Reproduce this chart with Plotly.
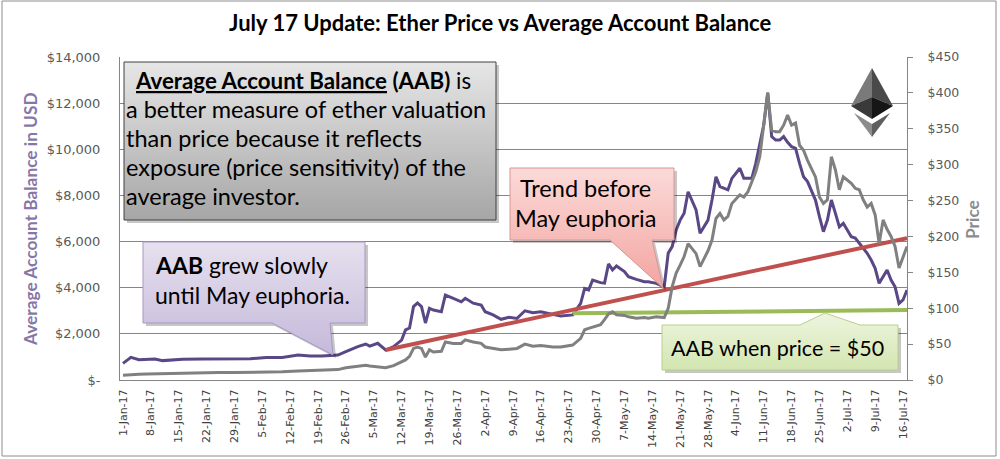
import plotly.graph_objects as go

# ---------------- data ----------------
dates = [
    "2017-01-01", "2017-01-03", "2017-01-05", "2017-01-07", "2017-01-09", "2017-01-11",
    "2017-01-13", "2017-01-16", "2017-01-21", "2017-01-25", "2017-01-29", "2017-02-02",
    "2017-02-06", "2017-02-10", "2017-02-14", "2017-02-17", "2017-02-20", "2017-02-24",
    "2017-02-26", "2017-03-01", "2017-03-03", "2017-03-04", "2017-03-06", "2017-03-08",
    "2017-03-10", "2017-03-12", "2017-03-13", "2017-03-14", "2017-03-15", "2017-03-16",
    "2017-03-17", "2017-03-18", "2017-03-19", "2017-03-20", "2017-03-22", "2017-03-23",
    "2017-03-25", "2017-03-27", "2017-03-28", "2017-03-30", "2017-04-01", "2017-04-02",
    "2017-04-04", "2017-04-06", "2017-04-08", "2017-04-10", "2017-04-12", "2017-04-14",
    "2017-04-16", "2017-04-17", "2017-04-19", "2017-04-21", "2017-04-24", "2017-04-26",
    "2017-04-27", "2017-04-28", "2017-04-29", "2017-05-01", "2017-05-02", "2017-05-03",
    "2017-05-04", "2017-05-05", "2017-05-07", "2017-05-08", "2017-05-10", "2017-05-12",
    "2017-05-13", "2017-05-15", "2017-05-17", "2017-05-18", "2017-05-19", "2017-05-20",
    "2017-05-21", "2017-05-22", "2017-05-23", "2017-05-25", "2017-05-26", "2017-05-28",
    "2017-05-29", "2017-05-30", "2017-05-31", "2017-06-01", "2017-06-02", "2017-06-03",
    "2017-06-05", "2017-06-06", "2017-06-07", "2017-06-08", "2017-06-09", "2017-06-10",
    "2017-06-11", "2017-06-12", "2017-06-13", "2017-06-14", "2017-06-15", "2017-06-16",
    "2017-06-17", "2017-06-18", "2017-06-19", "2017-06-20", "2017-06-21", "2017-06-22",
    "2017-06-24", "2017-06-25", "2017-06-26", "2017-06-27", "2017-06-28", "2017-06-29",
    "2017-06-30", "2017-07-01", "2017-07-03", "2017-07-04", "2017-07-05", "2017-07-06",
    "2017-07-07", "2017-07-08", "2017-07-09", "2017-07-10", "2017-07-11", "2017-07-12",
    "2017-07-13", "2017-07-14", "2017-07-15", "2017-07-16", "2017-07-17",
]
aab = [
    720, 980, 880, 900, 910, 840,
    870, 895, 910, 920, 920, 920,
    980, 980, 1080, 1040, 1040, 1080,
    1230, 1450, 1560, 1470, 1590, 1300,
    1450, 1730, 2170, 2250, 3180, 3340,
    3180, 2470, 3110, 3030, 2960, 3680,
    3540, 3390, 3540, 3330, 3250, 2960,
    2820, 2630, 2720, 2670, 3000, 2920,
    2960, 2920, 2820, 2770, 2820, 3320,
    3970, 3900, 4330, 4220, 4200, 5030,
    4770, 4940, 4700, 4480, 4360, 4260,
    4260, 4190, 4040, 5500, 5780, 6500,
    6930, 7230, 8160, 7370, 6360, 6930,
    7800, 8810, 8380, 8300, 8240, 8740,
    9180, 8740, 8740, 8740, 9390, 10190,
    11050, 12450, 10550, 10400, 10400, 10550,
    10300, 10110, 10040, 9390, 8810, 8600,
    7800, 7080, 6430, 6930, 7800, 7230,
    6640, 6790, 6210, 6150, 5920, 5700,
    5490, 5200, 4840, 4190, 4500, 4770,
    4330, 4040, 3320, 3470, 3900,
]
price = [
    6.5, 7.5, 8, 8.3, 8.6, 9.5,
    9.7, 9.8, 10.3, 10.5, 10.6, 10.8,
    11.2, 11.4, 12.5, 13, 13.2, 14.5,
    17, 19, 20.4, 19.5, 18.5, 17,
    20, 26, 28, 33, 44, 46,
    44, 32, 42, 39, 40, 53,
    51, 51, 56, 53, 51, 46,
    44, 42, 43, 44, 50, 47,
    48, 47, 46, 46, 48.7, 58,
    70, 72, 74, 77, 84, 92,
    95, 91, 90, 88, 86, 87,
    86, 88, 87, 100, 130, 149,
    160, 172, 190, 176, 158, 180,
    195, 225, 232, 223, 228, 246,
    258, 255, 262, 275, 290, 311,
    352, 400, 348, 346, 346, 355,
    369, 355, 358, 327, 320, 306,
    283, 255, 246, 251, 311, 293,
    265, 283, 274, 267, 265, 251,
    241, 246, 230, 190, 223, 210,
    200, 186, 156, 172, 186,
]
trend_dates = ["2017-03-08", "2017-07-17"]
trend_aab = [1300, 6150]
price50_dates = ["2017-04-24", "2017-07-17"]
price50_aab = [2890, 3030]

aab_tickvals = [0, 2000, 4000, 6000, 8000, 10000, 12000, 14000]
aab_ticktext = ["$-", "$2,000", "$4,000", "$6,000", "$8,000", "$10,000", "$12,000", "$14,000"]
price_tickvals = [0, 50, 100, 150, 200, 250, 300, 350, 400, 450]
price_ticktext = ["$0", "$50", "$100", "$150", "$200", "$250", "$300", "$350", "$400", "$450"]
week_tickvals = [
    "2017-01-01", "2017-01-08", "2017-01-15", "2017-01-22", "2017-01-29", "2017-02-05",
    "2017-02-12", "2017-02-19", "2017-02-26", "2017-03-05", "2017-03-12", "2017-03-19",
    "2017-03-26", "2017-04-02", "2017-04-09", "2017-04-16", "2017-04-23", "2017-04-30",
    "2017-05-07", "2017-05-14", "2017-05-21", "2017-05-28", "2017-06-04", "2017-06-11",
    "2017-06-18", "2017-06-25", "2017-07-02", "2017-07-09", "2017-07-16",
]
week_ticktext = [
    "1-Jan-17", "8-Jan-17", "15-Jan-17", "22-Jan-17", "29-Jan-17", "5-Feb-17",
    "12-Feb-17", "19-Feb-17", "26-Feb-17", "5-Mar-17", "12-Mar-17", "19-Mar-17",
    "26-Mar-17", "2-Apr-17", "9-Apr-17", "16-Apr-17", "23-Apr-17", "30-Apr-17",
    "7-May-17", "14-May-17", "21-May-17", "28-May-17", "4-Jun-17", "11-Jun-17",
    "18-Jun-17", "25-Jun-17", "2-Jul-17", "9-Jul-17", "16-Jul-17",
]

# ---------------- layout geometry (pixels) ----------------
W, H = 1000, 459
PL, PR, PT, PB = 120, 907, 57, 380
TXT = "Lato"
TICKF = "DejaVu Sans"


def Y(py):
    return PB - py


fig = go.Figure()

fig.add_trace(go.Scatter(x=dates, y=aab, mode="lines", name="AAB",
                         line=dict(color="#5A4785", width=3), yaxis="y", xaxis="x"))
fig.add_trace(go.Scatter(x=trend_dates, y=trend_aab, mode="lines", name="trend",
                         line=dict(color="#C0504D", width=4), yaxis="y", xaxis="x"))
fig.add_trace(go.Scatter(x=price50_dates, y=price50_aab, mode="lines", name="price50",
                         line=dict(color="#9BBB59", width=4), yaxis="y", xaxis="x"))
fig.add_trace(go.Scatter(x=dates, y=price, mode="lines", name="Price",
                         line=dict(color="#808080", width=3), yaxis="y2", xaxis="x"))


def poly(pts, c_top, c_bot, border, shadow=True):
    xs = [p[0] for p in pts] + [pts[0][0]]
    ys = [Y(p[1]) for p in pts] + [Y(pts[0][1])]
    if shadow:
        fig.add_trace(go.Scatter(x=[x + 3 for x in xs], y=[y - 3 for y in ys], mode="lines",
                                 fill="toself", fillcolor="rgba(0,0,0,0.22)",
                                 line=dict(width=0, color="rgba(0,0,0,0)"),
                                 xaxis="x3", yaxis="y3", hoverinfo="skip"))
    fig.add_trace(go.Scatter(x=xs, y=ys, mode="lines", fill="toself",
                             fillgradient=dict(type="vertical",
                                               colorscale=[[0, c_bot], [1, c_top]]),
                             line=dict(width=1, color=border),
                             xaxis="x3", yaxis="y3", hoverinfo="skip"))


# gray info box
poly([(124, 62), (496, 62), (496, 220), (124, 220)], "#E6E6E6", "#A6A6A6", "#404040")
# pink callout
poly([(510, 168), (674, 168), (674, 240), (652, 240), (663, 288), (610, 240), (510, 240)],
     "#FBDAD8", "#F3A5A1", "#D99694")
# purple callout
poly([(143, 242), (365, 242), (365, 323), (330, 323), (333, 355), (272, 323), (143, 323)],
     "#E6E0EE", "#C5B9DA", "#A997C5")
# green callout
poly([(662, 325), (800, 325), (825, 313), (860, 325), (898, 325), (898, 370), (662, 370)],
     "#EEF5E0", "#D3E6B0", "#B8D08A")

annotations = []


def txt(text, px, py, size, anchor="left", color="#000000"):
    annotations.append(dict(text=text, x=px, y=Y(py), xref="x3", yref="y3",
                            xanchor=anchor, yanchor="middle", showarrow=False,
                            font=dict(family=TXT, size=size, color=color)))


S = 23.5
txt("<b><u>Average Account Balance</u> (AAB)</b> is", 133, 80, 22.3)
txt("a better measure of ether valuation", 124, 109, S)
txt("than price because it reflects", 124, 138, S)
txt("exposure (price sensitivity) of the", 124, 167, S)
txt("average investor.", 124, 196, S)
txt("Trend before", 585, 188, S, anchor="center")
txt("May euphoria", 585, 218, S, anchor="center")
txt("<b>AAB</b> grew slowly", 153, 265, 23)
txt("until May euphoria.", 153, 295, 23)
txt("AAB when price = $50", 777, 348, 21.5, anchor="center")

# title and axis titles (paper coords)
annotations.append(dict(text="<b>July 17 Update: Ether Price vs Average Account Balance</b>",
                        x=(500 - PL) / (PR - PL), y=(PB - 22) / (PB - PT), xref="paper", yref="paper",
                        xanchor="center", yanchor="middle", showarrow=False,
                        font=dict(family=TXT, size=22, color="#000000")))
annotations.append(dict(text="<b>Average Account Balance in USD</b>",
                        x=(30 - PL) / (PR - PL), y=(PB - 219) / (PB - PT), xref="paper", yref="paper",
                        xanchor="center", yanchor="middle", showarrow=False, textangle=-90,
                        font=dict(family=TXT, size=17.3, color="#8677A8")))
annotations.append(dict(text="<b>Price</b>",
                        x=(972 - PL) / (PR - PL), y=(PB - 220) / (PB - PT), xref="paper", yref="paper",
                        xanchor="center", yanchor="middle", showarrow=False, textangle=-90,
                        font=dict(family=TXT, size=17.3, color="#8C8C8C")))

# Ether logo shapes (pixel coords on overlay axes)
shapes = []


def tri(pts, color):
    path = "M " + " L ".join(f"{x},{Y(y)}" for x, y in pts) + " Z"
    shapes.append(dict(type="path", path=path, xref="x3", yref="y3",
                       fillcolor=color, line=dict(width=0), layer="above"))


T, L, R, C, B = (872, 68), (851, 106), (893, 106), (872, 97), (872, 119)
tri([T, L, C], "#7A7A7A")
tri([T, R, C], "#4A4A4A")
tri([L, C, B], "#3A3A3A")
tri([R, C, B], "#161616")
tri([(854, 113), (872, 124), (872, 137)], "#8C8C8C")
tri([(890, 113), (872, 124), (872, 137)], "#5E5E5E")

# outer chart border
shapes.append(dict(type="rect", xref="paper", yref="paper",
                   x0=(2 - PL) / (PR - PL), x1=(996 - PL) / (PR - PL),
                   y0=(PB - 456) / (PB - PT), y1=(PB - 1) / (PB - PT),
                   line=dict(color="#8C8C8C", width=1), fillcolor="rgba(0,0,0,0)", layer="below"))

fig.update_layout(
    width=W, height=H,
    margin=dict(l=PL, r=W - PR, t=PT, b=H - PB),
    paper_bgcolor="white", plot_bgcolor="white",
    showlegend=False,
    annotations=annotations,
    shapes=shapes,
    xaxis=dict(type="date", range=["2016-12-31 06:00", "2017-07-17 00:00"],
               tickvals=week_tickvals, ticktext=week_ticktext, tickangle=-90,
               tickfont=dict(family=TICKF, size=11, color="#404040"),
               showgrid=False, showline=True, linecolor="#868686", linewidth=1,
               ticks="", ticklabelstandoff=4, zeroline=False, fixedrange=True),
    yaxis=dict(range=[0, 14000], tickvals=aab_tickvals, ticktext=aab_ticktext,
               tickfont=dict(family=TICKF, size=13, color="#595959"),
               showgrid=True, gridcolor="#868686", gridwidth=1,
               showline=True, linecolor="#868686", linewidth=1,
               ticks="", ticklabelstandoff=16, zeroline=False),
    yaxis2=dict(range=[0, 450], tickvals=price_tickvals, ticktext=price_ticktext,
                overlaying="y", side="right", anchor="x",
                tickfont=dict(family=TICKF, size=12.5, color="#595959"),
                showgrid=False, showline=True, linecolor="#868686", linewidth=1,
                ticks="outside", ticklen=5, tickcolor="#868686",
                ticklabelstandoff=12, zeroline=False),
    xaxis3=dict(range=[PL, PR], overlaying="x", anchor="y3", visible=False, fixedrange=True),
    yaxis3=dict(range=[0, PB - PT], overlaying="y", anchor="x3", visible=False, fixedrange=True),
)

fig.write_html("out.html", config={"displayModeBar": False},
               post_script="document.body.style.margin='0';")
